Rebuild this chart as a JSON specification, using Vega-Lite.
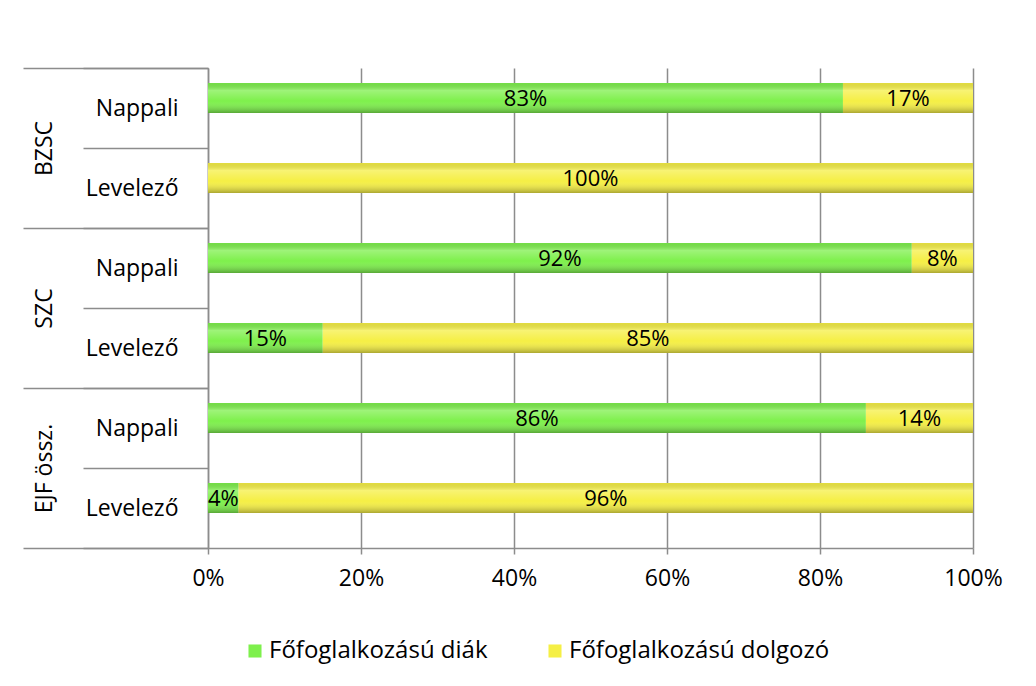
{
  "$schema": "https://vega.github.io/schema/vega-lite/v6.json",
  "width": 765,
  "height": 480,
  "padding": {"left": 22, "top": 57, "right": 30, "bottom": 10},
  "background": "white",
  "config": {
    "font": "Open Sans",
    "view": {"stroke": null}
  },
  "data": {
    "values": [
      {"group": "BZSC", "sub": "Nappali", "key": "BZSC|Nappali", "series": "Főfoglalkozású diák", "value": 0.83},
      {"group": "BZSC", "sub": "Nappali", "key": "BZSC|Nappali", "series": "Főfoglalkozású dolgozó", "value": 0.17},
      {"group": "BZSC", "sub": "Levelező", "key": "BZSC|Levelező", "series": "Főfoglalkozású diák", "value": 0},
      {"group": "BZSC", "sub": "Levelező", "key": "BZSC|Levelező", "series": "Főfoglalkozású dolgozó", "value": 1.0},
      {"group": "SZC", "sub": "Nappali", "key": "SZC|Nappali", "series": "Főfoglalkozású diák", "value": 0.92},
      {"group": "SZC", "sub": "Nappali", "key": "SZC|Nappali", "series": "Főfoglalkozású dolgozó", "value": 0.08},
      {"group": "SZC", "sub": "Levelező", "key": "SZC|Levelező", "series": "Főfoglalkozású diák", "value": 0.15},
      {"group": "SZC", "sub": "Levelező", "key": "SZC|Levelező", "series": "Főfoglalkozású dolgozó", "value": 0.85},
      {"group": "EJF össz.", "sub": "Nappali", "key": "EJF össz.|Nappali", "series": "Főfoglalkozású diák", "value": 0.86},
      {"group": "EJF össz.", "sub": "Nappali", "key": "EJF össz.|Nappali", "series": "Főfoglalkozású dolgozó", "value": 0.14},
      {"group": "EJF össz.", "sub": "Levelező", "key": "EJF össz.|Levelező", "series": "Főfoglalkozású diák", "value": 0.04},
      {"group": "EJF össz.", "sub": "Levelező", "key": "EJF össz.|Levelező", "series": "Főfoglalkozású dolgozó", "value": 0.96}
    ]
  },
  "transform": [
    {"stack": "value", "groupby": ["key"], "sort": [{"field": "series", "order": "ascending"}], "as": ["v0", "v1"]}
  ],
  "layer": [
    {
      "mark": {"type": "point", "opacity": 0},
      "encoding": {
        "y": {
          "field": "group", "type": "nominal", "sort": null,
          "scale": {"type": "band", "paddingInner": 0, "paddingOuter": 0},
          "axis": {
            "orient": "left", "title": null, "domain": false,
            "tickBand": "extent", "tickSize": 185, "tickColor": "#8c8c8c", "tickWidth": 1.5,
            "labelAngle": -90, "labelAlign": "center", "labelBaseline": "middle",
            "labelPadding": -21, "labelFontSize": 23, "labelColor": "#000000", "labelFont": "Open Sans"
          }
        }
      }
    },
    {
      "encoding": {
        "y": {
          "field": "key", "type": "nominal", "sort": null,
          "scale": {"paddingInner": 0, "paddingOuter": 0},
          "axis": {
            "orient": "left", "title": null,
            "domainColor": "#8c8c8c", "domainWidth": 1.5,
            "tickBand": "extent", "tickSize": 125, "tickColor": "#8c8c8c", "tickWidth": 1.5,
            "labelExpr": "split(datum.label, '|')[1]",
            "labelPadding": -95, "labelFontSize": 23, "labelColor": "#000000", "labelFont": "Open Sans"
          }
        }
      },
      "layer": [
        {
          "mark": {"type": "bar", "size": 30, "yOffset": -10},
          "encoding": {
            "x": {
              "field": "v0", "type": "quantitative",
              "scale": {"domain": [0, 1], "nice": false},
              "axis": {
                "title": null, "format": "%", "values": [0, 0.2, 0.4, 0.6, 0.8, 1],
                "grid": true, "gridColor": "#8c8c8c", "gridWidth": 1.5,
                "domainColor": "#8c8c8c", "domainWidth": 1.5,
                "tickColor": "#8c8c8c", "tickWidth": 1.5, "tickSize": 6, "labelFlush": false,
                "labelPadding": 13, "labelFontSize": 23, "labelColor": "#000000", "labelFont": "Open Sans"
              }
            },
            "x2": {"field": "v1"},
            "color": {
              "field": "series", "type": "nominal",
              "scale": {"domain": ["Főfoglalkozású diák", "Főfoglalkozású dolgozó"], "range": ["#7ef04c", "#f5ef45"]},
              "legend": {
                "title": null, "orient": "none", "direction": "horizontal",
                "legendX": 35, "legendY": 571,
                "symbolType": "square", "symbolSize": 170, "symbolStrokeWidth": 0,
                "labelFontSize": 24, "labelFont": "Open Sans", "labelColor": "#000000", "labelLimit": 0,
                "columnPadding": 55, "labelOffset": 2
              }
            }
          }
        },
        {
          "mark": {
            "type": "bar", "size": 30, "yOffset": -10,
            "fill": {
              "gradient": "linear", "x1": 0, "y1": 0, "x2": 0, "y2": 1,
              "stops": [
                {"offset": 0, "color": "rgba(0,0,0,0.08)"},
                {"offset": 0.25, "color": "rgba(255,255,255,0.25)"},
                {"offset": 0.6, "color": "rgba(255,255,255,0)"},
                {"offset": 1, "color": "rgba(0,0,0,0.3)"}
              ]
            }
          },
          "encoding": {
            "x": {"field": "v0", "type": "quantitative"},
            "x2": {"field": "v1"}
          }
        },
        {
          "transform": [
            {"filter": "datum.value > 0"},
            {"calculate": "(datum.v0 + datum.v1) / 2", "as": "mid"}
          ],
          "mark": {"type": "text", "yOffset": -9, "fontSize": 22, "font": "Open Sans", "color": "#000000", "align": "center", "baseline": "middle"},
          "encoding": {
            "x": {"field": "mid", "type": "quantitative"},
            "text": {"field": "value", "type": "quantitative", "format": ".0%"}
          }
        }
      ]
    }
  ],
  "resolve": {"scale": {"y": "independent"}}
}
